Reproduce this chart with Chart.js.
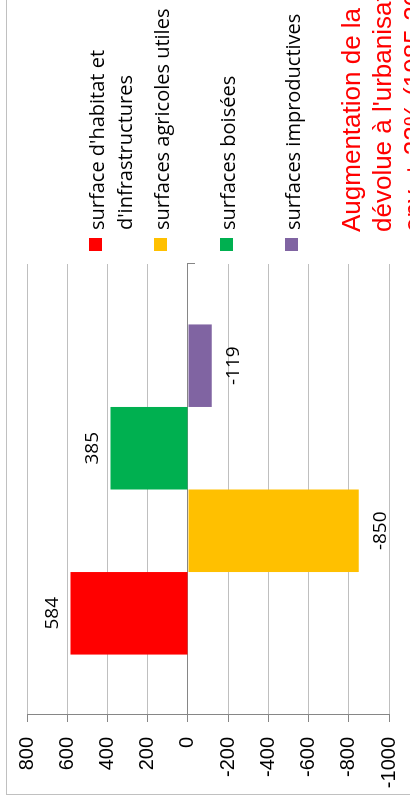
<!DOCTYPE html>
<html lang="fr">
<head>
<meta charset="utf-8">
<title>Surfaces</title>
<script src="https://cdn.jsdelivr.net/npm/chart.js@4/dist/chart.umd.min.js"></script>
<style>
  html, body { margin: 0; padding: 0; background: #fff; overflow: hidden; }
  body { width: 410px; height: 804px; position: relative; }
  /* the chart is laid out lying down, then turned a quarter to the left */
  #stage { position: absolute; left: 0; top: 0; width: 804px; height: 410px;
           transform-origin: 0 0; transform: translateY(804px) rotate(-90deg); }
  #frame { position: absolute; left: 9px; top: 6px; width: 830px; height: 430px;
           border-left: 1px solid #c0c0c0; border-top: 1px solid #c0c0c0; }
  #chart { position: absolute; left: 0; top: 0; }
  .item { position: absolute; left: 553px; width: 250px; }
  .item .box { position: absolute; left: 0; top: 6px; width: 13px; height: 13px; }
  .item .txt { position: absolute; left: 21px; width: 230px; font: 20px/28px "Open Sans", sans-serif; color: #000; }
  #title { position: absolute; left: 572px; top: 336px; white-space: nowrap;
           font: 26px/31px "Liberation Sans", Arial, sans-serif; color: #ff0000; }
</style>
</head>
<body>
<div id="stage">
  <div id="frame"></div>
  <canvas id="chart" width="804" height="410"></canvas>
  <div id="legend"></div>
  <div id="title"></div>
</div>
<script>
const categories = [''];
const seriesLabels = ["surface d'habitat et d'infrastructures", 'surfaces agricoles utiles', 'surfaces boisées', 'surfaces improductives'];
const seriesValues = [584, -850, 385, -119];
const seriesColors = ['#ff0000', '#ffc000', '#00b050', '#8064a2'];
const valueTicks = [800, 600, 400, 200, 0, -200, -400, -600, -800, -1000];
const titleLines = ['Augmentation de la surface', "dévolue à l'urbanisation :", 'env. + 22% (1985-2009)'];

// labels at the end of each bar
const valueLabels = {
    id: 'valueLabels',
    afterDatasetsDraw(chart) {
        const ctx = chart.ctx;
        ctx.save();
        ctx.font = '19px "Open Sans"';
        ctx.fillStyle = '#000';
        ctx.textAlign = 'center';
        ctx.textBaseline = 'middle';
        chart.data.datasets.forEach((ds, i) => {
            chart.getDatasetMeta(i).data.forEach((bar, j) => {
                const v = ds.data[j];
                ctx.fillText(String(v), bar.x, v >= 0 ? bar.y - 18 : bar.y + 22);
            });
        });
        ctx.restore();
    }
};

new Chart(document.getElementById('chart'), {
    type: 'bar',
    data: {
        labels: categories,
        datasets: seriesLabels.map((label, i) => ({
            label,
            data: [seriesValues[i]],
            backgroundColor: seriesColors[i],
            borderWidth: 0
        }))
    },
    options: {
        responsive: false,
        animation: false,
        layout: { padding: { left: 0, right: 264, top: 27, bottom: 21 } },
        datasets: { bar: { categoryPercentage: 0.732, barPercentage: 1 } },
        plugins: { legend: { display: false }, tooltip: { enabled: false } },
        scales: {
            x: {
                position: { y: 0 },
                offset: true,
                ticks: { display: false },
                grid: { offset: true, drawOnChartArea: false, drawTicks: true, tickLength: 7, color: '#868686' },
                border: { color: '#868686' }
            },
            y: {
                min: Math.min(...valueTicks),
                max: Math.max(...valueTicks),
                afterFit: s => { s.width = 89; s.paddingTop = 0; s.paddingBottom = 0; },
                afterBuildTicks: s => { s.ticks = valueTicks.map(v => ({ value: v })); },
                ticks: {
                    padding: 15, color: '#000',
                    font: { family: 'Liberation Sans', size: 20 },
                    callback: v => String(v)
                },
                grid: {
                    color: c => (c.tick && c.tick.value === 0 ? '#868686' : '#bfbfbf'),
                    tickColor: '#868686',
                    tickLength: 7
                },
                border: { color: '#868686' }
            }
        }
    },
    plugins: [valueLabels]
});

// legend, one item per series
const legend = document.getElementById('legend');
seriesLabels.forEach((label, i) => {
    const item = document.createElement('div');
    item.className = 'item';
    item.style.top = (83 + i * 65.3) + 'px';
    item.innerHTML = `<div class="box" style="background:${seriesColors[i]}"></div><div class="txt"></div>`;
    item.querySelector('.txt').textContent = label;
    legend.appendChild(item);
});

document.getElementById('title').innerHTML = titleLines.map(t => t.replace(/&/g, '&amp;').replace(/</g, '&lt;')).join('<br>');
</script>
</body>
</html>
